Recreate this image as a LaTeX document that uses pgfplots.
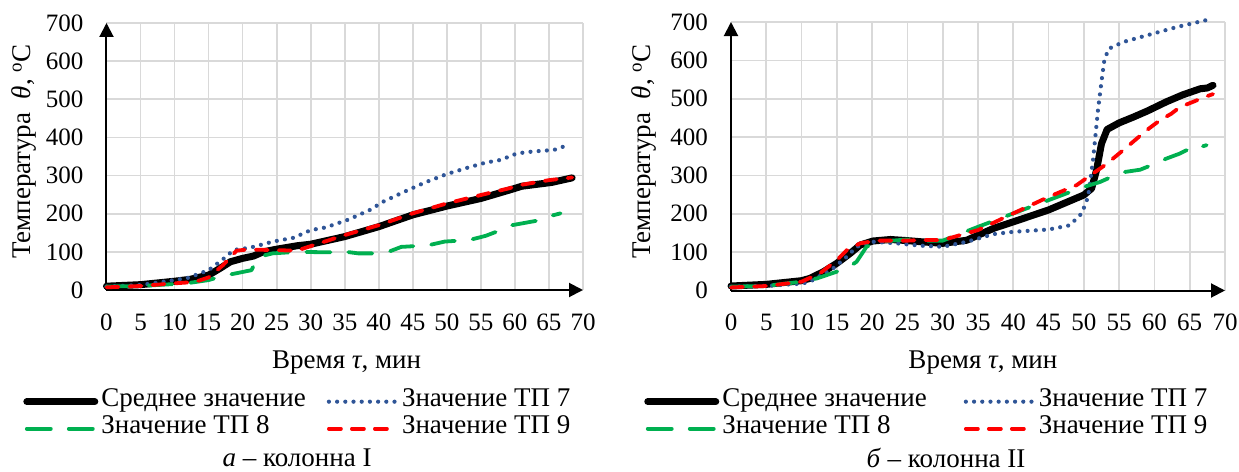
\documentclass[border=0pt]{standalone}
\usepackage{fontspec}
\setmainfont{Liberation Serif}
\usepackage{pgfplots}
\pgfplotsset{compat=1.18}
\usetikzlibrary{arrows.meta}
\definecolor{cBlue}{RGB}{47,85,151}
\definecolor{cGreen}{RGB}{0,176,80}
\definecolor{cRed}{RGB}{255,0,0}
\definecolor{cGrid}{RGB}{217,217,217}
\pgfplotsset{
 myaxis/.style={
  scale only axis, anchor=south west,
  xmin=0,xmax=70,ymin=0,ymax=700,
  xtick={0,5,...,70}, ytick={0,100,...,700},
  axis lines=left,
  axis line style={line width=2pt, -{Triangle[length=14pt,width=14pt]}},
  grid=major, major grid style={draw=cGrid, line width=1.7pt},
  major tick length=0pt,
  clip=false,
  /pgf/number format/assume math mode=true,
  tick label style={font=\fontsize{25}{30}\selectfont},
  xticklabel style={anchor=center, inner sep=0pt, yshift=-32pt},
  yticklabel style={anchor=east, inner sep=0pt, xshift=-23pt},
  xlabel={Время \textit{τ}, мин},
  ylabel={Температура\ \ \textit{θ}, \textsuperscript{o}C},
  legend columns=2,
  legend cell align=left,
  legend image code/.code={\draw[##1] (0pt,0pt) -- (68pt,0pt);},
  legend style={draw=none, fill=none, inner sep=0pt, anchor=north west, row sep=0pt,
    nodes={inner xsep=3pt, inner ysep=0pt, text height=18pt, text depth=9pt}},
 },
 mean/.style={black, line width=7pt, line cap=round, line join=round},
 tp7/.style={cBlue, line width=4.2pt, line cap=round, dash pattern=on 0pt off 8.2pt},
 tp8/.style={cGreen, line width=3.8pt, line cap=round, line join=round, dash pattern=on 24pt off 18pt},
 tp9/.style={cRed, line width=3.8pt, line cap=round, line join=round, dash pattern=on 12pt off 11pt},
}
\begin{document}
\fontsize{27}{32}\selectfont
\begin{tikzpicture}[x=1pt,y=1pt]
\useasboundingbox (0,0) rectangle (1239,471);
\begin{axis}[myaxis, at={(106.5pt,181pt)}, width=476.5pt, height=267pt,
  xlabel style={at={(axis description cs:0.504,-0.272)}, anchor=center},
  ylabel style={at={(axis description cs:-0.173,0.518)}, anchor=center},
  legend style={at={(axis description cs:-0.175,-0.367)},
    /tikz/every even column/.append style={column sep=18pt}}]
\addplot[mean] coordinates {(0,10) (5,14) (10,23) (12.3,28) (15,39) (16.7,57) (18.2,74) (20,83) (21.6,89) (23,100) (25,107) (28,116) (30,120) (35,140) (40,166) (45,197) (50,220) (55,240) (59,261) (61,272) (65.4,282) (68.4,294)};
\addlegendentry{Среднее значение}
\addplot[tp7] coordinates {(0,9) (5,13) (10,26) (12,32) (15,52) (17,79) (18.7,105) (21.1,111) (24.5,127) (27.5,137) (30,157) (32.2,164) (35.6,185) (38.7,210) (40.7,232) (43.8,258) (46.8,282) (50,304) (53.3,322) (55.7,334) (57.9,341) (60.3,358) (62,362) (64,365) (65.7,367) (67.3,377)};
\addlegendentry{Значение ТП 7}
\addplot[tp8] coordinates {(0,9) (5,10.5) (10,15.7) (12.3,19) (15,26) (17.1,37) (19.1,44) (21.3,52) (22.3,87) (24.4,96) (28,100) (31.8,99) (35.7,99) (37,96) (39,96) (41.4,100) (43.3,113) (47.2,117) (49.7,127) (53.3,131) (55.7,142) (57.9,157) (59.6,170) (62.4,179) (64,184) (65.2,194) (66.7,201)};
\addlegendentry{Значение ТП 8}
\addplot[tp9] coordinates {(0,7) (5,10.5) (10,17.5) (13,21) (15,33) (17.1,65) (19.1,103) (20.6,106) (24,105) (27.9,103) (30,115) (35,144) (40,170) (45,201) (50,227) (55,249) (59,266) (61,276) (65,288) (68.4,295)};
\addlegendentry{Значение ТП 9}
\end{axis}
\begin{axis}[myaxis, at={(731pt,180.5pt)}, width=494pt, height=268.5pt,
  xlabel style={at={(axis description cs:0.51,-0.27)}, anchor=center},
  ylabel style={at={(axis description cs:-0.176,0.517)}, anchor=center},
  legend style={at={(axis description cs:-0.176,-0.363)},
    /tikz/every even column/.append style={column sep=34pt}}]
\addplot[mean] coordinates {(0,11.7) (5,16) (10,25.6) (11.2,31.7) (13.1,49) (15,71) (16.9,97) (18.3,118.5) (20.1,129) (22.6,133) (25,130) (27,127) (30,123) (33.4,131) (37.2,162) (40,179) (45,210) (50,249) (51.1,266) (51.8,314) (52.5,383) (53.3,420) (55,437) (57,452) (59,468) (61.7,492) (64,510) (66.5,526) (67.5,528) (68.3,535)};
\addlegendentry{Среднее значение}
\addplot[tp7] coordinates {(0,10) (5,12) (10,18) (11.2,23) (14.5,58) (16.4,88) (17.8,114) (20.1,127) (23.5,123) (26.8,117) (30,114) (33.4,127) (37.2,147) (40,153) (45,159) (48,170) (49.7,201) (50.6,244) (51.3,340) (52,470) (52.5,545) (52.9,600) (53.5,630) (55.6,648) (58.9,665) (63.2,687) (67.6,706)};
\addlegendentry{Значение ТП 7}
\addplot[tp8] coordinates {(0,10) (5,12) (10,23) (12.2,31.7) (16.4,57.8) (17.8,75) (19.2,114) (20.7,127) (25,133) (27,130) (30,130) (35,166) (40,201) (45,235.6) (50,270) (52.3,283) (54,297) (55.8,309) (58,315) (60,330) (61.7,344) (63.6,357) (66,379) (66.5,374) (67.4,379)};
\addlegendentry{Значение ТП 8}
\addplot[tp9] coordinates {(0,8) (5,11.7) (10,23) (12.6,44.7) (15,79) (16.4,105) (18.3,123) (20.7,130) (25,130) (27,131.5) (30,131.5) (35,157.5) (40,201) (45,244) (49,275) (51.3,305) (53,327) (54.4,348) (56.1,374) (57.5,396) (59.2,422) (60.8,444) (62.4,461) (63.6,478) (65.5,492) (67.2,505) (68.3,512)};
\addlegendentry{Значение ТП 9}
\end{axis}
\node[anchor=center] at (297,13) {\textit{а} – колонна I};
\node[anchor=center] at (946,13) {\textit{б} – колонна II};
\end{tikzpicture}
\end{document}
